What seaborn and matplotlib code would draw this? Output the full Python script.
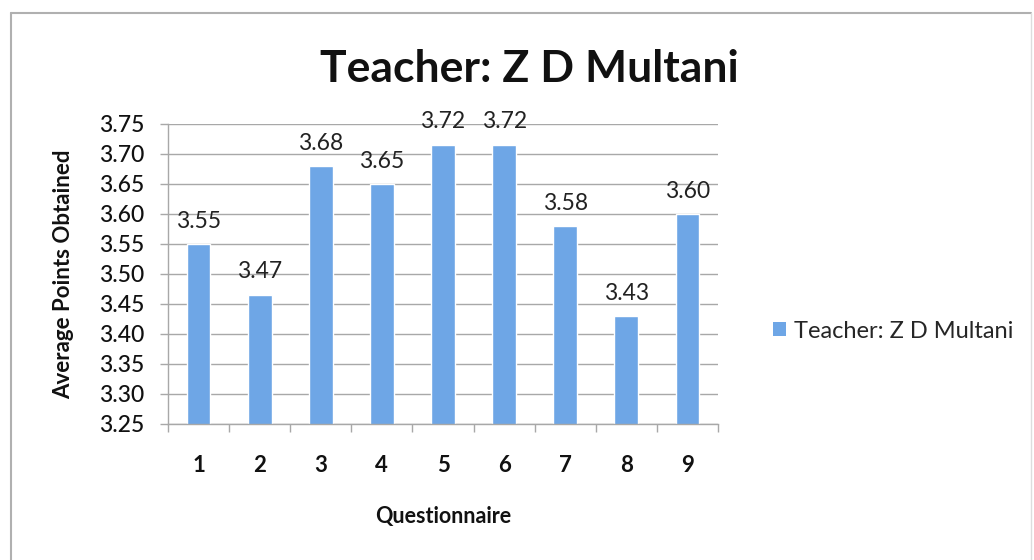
import matplotlib
matplotlib.use("Agg")
import matplotlib.pyplot as plt
import seaborn as sns
import pandas as pd
from matplotlib.lines import Line2D
from matplotlib.patches import Patch

categories = ["1", "2", "3", "4", "5", "6", "7", "8", "9"]
values = [3.55, 3.465, 3.68, 3.65, 3.715, 3.715, 3.58, 3.43, 3.60]
value_labels = ["3.55", "3.47", "3.68", "3.65", "3.72", "3.72", "3.58", "3.43", "3.60"]
y_ticks = [3.25, 3.30, 3.35, 3.40, 3.45, 3.50, 3.55, 3.60, 3.65, 3.70, 3.75]
series_name = "Teacher: Z D Multani"

sns.set_theme(style="white")
plt.rcParams["font.family"] = ["Lato", "DejaVu Sans"]

df = pd.DataFrame({"Questionnaire": categories, "Average": values})

W, H = 1034, 560
fig = plt.figure(figsize=(W / 100, H / 100), dpi=100)
ax = fig.add_axes([168 / W, 1 - 424 / H, 550 / W, 300 / H])

bar_color = "#6ea6e6"
sns.barplot(data=df, x="Questionnaire", y="Average", color=bar_color,
            width=0.39, ax=ax, saturation=1)

ax.set_ylim(3.25, 3.75)
ax.set_xlim(-0.5, len(categories) - 0.5)
ax.set_yticks(y_ticks)
ax.set_yticklabels([f"{t:.2f}" for t in y_ticks], fontsize=16.5, color="#111111",
                   fontweight="medium")
ax.yaxis.grid(True, color="#a8a8a8", linewidth=1)
ax.set_axisbelow(True)

# x ticks at category boundaries, labels at centres
ax.set_xticks(range(len(categories)))
ax.set_xticklabels(categories, fontsize=16, fontweight="bold", color="#111111")
ax.tick_params(axis="x", length=0, pad=22)
ax.set_xticks([i - 0.5 for i in range(len(categories) + 1)], minor=True)
ax.tick_params(axis="x", which="minor", length=6, color="#a8a8a8", width=1, bottom=True)
ax.tick_params(axis="y", length=6, color="#a8a8a8", width=1, left=True, pad=11)

for side in ["top", "right"]:
    ax.spines[side].set_visible(False)
for side in ["left", "bottom"]:
    ax.spines[side].set_color("#a8a8a8")
    ax.spines[side].set_linewidth(1)

ax.bar_label(ax.containers[0], labels=value_labels, padding=9, fontsize=16.5, color="#222222")

ax.set_xlabel("Questionnaire", fontsize=15.5, fontweight="bold", labelpad=22, color="#111111")
ax.set_ylabel("Average Points Obtained", fontsize=16, fontweight="bold", labelpad=18, color="#111111")

fig.text(529 / W, 1 - 69 / H, series_name, ha="center", va="center",
         fontsize=32, fontweight="bold", color="#111111")

handle = Patch(facecolor=bar_color, edgecolor="none")
fig.legend([handle], [series_name], loc="center left",
           bbox_to_anchor=(752 / W, 1 - 331 / H), frameon=False, fontsize=17,
           handlelength=0.55, handleheight=0.55, handletextpad=0.35)

# chart border (scan)
border_c = "#b0b0b0"
fig.add_artist(Line2D([11 / W, 1031 / W], [1 - 13 / H, 1 - 13 / H], color=border_c, lw=1.5, transform=fig.transFigure))
fig.add_artist(Line2D([11 / W, 11 / W], [0, 1 - 13 / H], color=border_c, lw=1.5, transform=fig.transFigure))
fig.add_artist(Line2D([1031 / W, 1031 / W], [0, 1 - 13 / H], color="#dddddd", lw=1, transform=fig.transFigure))

fig.savefig("out.png", dpi=100)
